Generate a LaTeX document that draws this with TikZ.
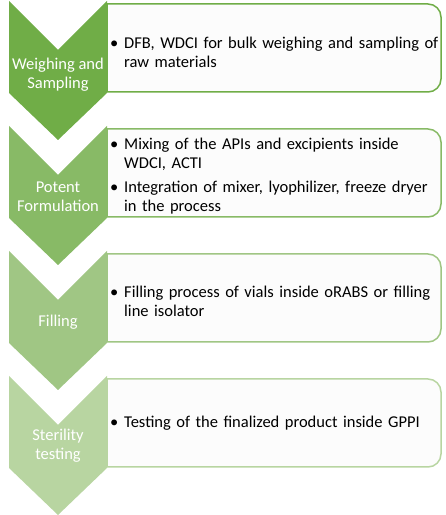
\documentclass[tikz,border=0pt]{standalone}
\usepackage{fontspec}
\setmainfont{Carlito}
\definecolor{greenA}{HTML}{70AD47}
\definecolor{greenB}{HTML}{88BA66}
\definecolor{greenC}{HTML}{A0C684}
\definecolor{greenD}{HTML}{B8D5A1}
\newcommand{\bitem}{\par\hangindent=14pt\hangafter=1\noindent\makebox[14pt][l]{\textbullet}}
\tikzset{
  chev/.style={fill=#1, draw=none},
  box/.style={draw=#1, line width=1.5pt, fill=white!98!gray},
  chevtext/.style={text=white, align=center, inner sep=0pt,
    font=\fontsize{16.5}{19}\selectfont},
  boxtext/.style={anchor=west, text width=332pt, align=left, inner sep=0pt,
    font=\fontsize{16.5}{19}\selectfont\setlength{\parskip}{5pt}}
}
\begin{document}
\begin{tikzpicture}[x=1pt,y=1pt]
\useasboundingbox (0,0) rectangle (446,515);
% boxes
\draw[box=greenA] (107,511) -- (428,511) arc[start angle=90,end angle=0,radius=13]
  -- (441,436) arc[start angle=0,end angle=-90,radius=13] -- (107,423) -- cycle;
\draw[box=greenB] (107,386) -- (428,386) arc[start angle=90,end angle=0,radius=13]
  -- (441,311) arc[start angle=0,end angle=-90,radius=13] -- (107,298) -- cycle;
\draw[box=greenC] (107,261) -- (428,261) arc[start angle=90,end angle=0,radius=13]
  -- (441,186) arc[start angle=0,end angle=-90,radius=13] -- (107,173) -- cycle;
\draw[box=greenD] (107,136) -- (428,136) arc[start angle=90,end angle=0,radius=13]
  -- (441,61) arc[start angle=0,end angle=-90,radius=13] -- (107,48) -- cycle;
% chevrons
\fill[chev=greenA] (9,514) -- (58,465) -- (107,514) -- (107,422) -- (58,375) -- (9,422) -- cycle;
\fill[chev=greenB] (9,389) -- (58,340) -- (107,389) -- (107,297) -- (58,250) -- (9,297) -- cycle;
\fill[chev=greenC] (9,264) -- (58,215) -- (107,264) -- (107,172) -- (58,125) -- (9,172) -- cycle;
\fill[chev=greenD] (9,139) -- (58,90) -- (107,139) -- (107,47) -- (58,0) -- (9,47) -- cycle;
% labels
\node[chevtext] (weigh) at (58,440) {Weighing and\\Sampling};
\node[chevtext] (form) at (58,318) {Potent\\Formulation};
\node[chevtext] (fill) at (58,193) {Filling};
\node[chevtext] (steril) at (58,69) {Sterility\\testing};
\node[boxtext] (weighbox) at (110,469) {\bitem DFB, WDCI for bulk weighing and sampling of\newline raw materials\par};
\node[boxtext] (formbox) at (110,345) {\bitem Mixing of the APIs and excipients inside\newline WDCI, ACTI
  \bitem Integration of mixer, lyophilizer, freeze dryer\newline in the process\par};
\node[boxtext] (fillbox) at (110,220) {\bitem Filling process of vials inside oRABS or filling\newline line isolator\par};
\node[boxtext] (sterilbox) at (110,98) {\bitem Testing of the finalized product inside GPPI\par};
\end{tikzpicture}
\end{document}
